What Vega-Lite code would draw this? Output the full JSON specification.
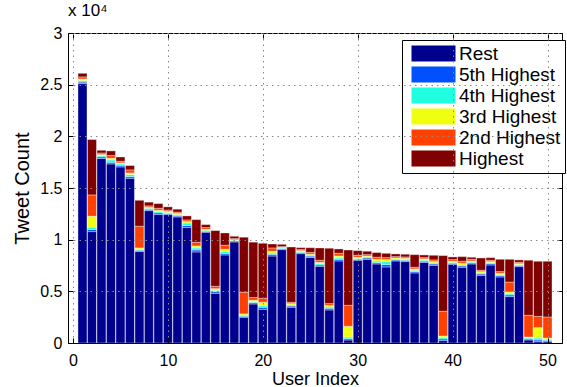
{
  "$schema": "https://vega.github.io/schema/vega-lite/v6.json",
  "width": 494,
  "height": 310,
  "autosize": {"type": "none"},
  "padding": {"left": 68, "top": 33, "right": 5, "bottom": 44},
  "background": "white",
  "config": {"view": {"stroke": "black", "strokeWidth": 1}, "font": "Liberation Sans"},
  "title": {"text": "x 10⁴", "anchor": "start", "frame": "group", "offset": 5, "fontSize": 17, "fontWeight": "normal", "font": "Liberation Sans", "color": "black"},
  "datasets": {
    "segs": [
      {"Segment": "Rest", "rank": 0},
      {"Segment": "5th Highest", "rank": 1},
      {"Segment": "4th Highest", "rank": 2},
      {"Segment": "3rd Highest", "rank": 3},
      {"Segment": "2nd Highest", "rank": 4},
      {"Segment": "Highest", "rank": 5}
    ],
    "users": [
      {"user": 1, "Rest": 25100, "5th Highest": 150, "4th Highest": 150, "3rd Highest": 150, "2nd Highest": 200, "Highest": 350},
      {"user": 2, "Rest": 10780, "5th Highest": 200, "4th Highest": 220, "3rd Highest": 1070, "2nd Highest": 2060, "Highest": 5360},
      {"user": 3, "Rest": 17850, "5th Highest": 160, "4th Highest": 130, "3rd Highest": 100, "2nd Highest": 150, "Highest": 260},
      {"user": 4, "Rest": 17330, "5th Highest": 160, "4th Highest": 230, "3rd Highest": 160, "2nd Highest": 260, "Highest": 450},
      {"user": 5, "Rest": 17040, "5th Highest": 160, "4th Highest": 130, "3rd Highest": 100, "2nd Highest": 160, "Highest": 410},
      {"user": 6, "Rest": 15940, "5th Highest": 160, "4th Highest": 200, "3rd Highest": 160, "2nd Highest": 290, "Highest": 420},
      {"user": 7, "Rest": 8850, "5th Highest": 120, "4th Highest": 100, "3rd Highest": 130, "2nd Highest": 2100, "Highest": 2510},
      {"user": 8, "Rest": 12810, "5th Highest": 130, "4th Highest": 100, "3rd Highest": 100, "2nd Highest": 130, "Highest": 360},
      {"user": 9, "Rest": 12430, "5th Highest": 160, "4th Highest": 130, "3rd Highest": 130, "2nd Highest": 190, "Highest": 450},
      {"user": 10, "Rest": 12430, "5th Highest": 100, "4th Highest": 100, "3rd Highest": 100, "2nd Highest": 130, "Highest": 320},
      {"user": 11, "Rest": 12200, "5th Highest": 100, "4th Highest": 130, "3rd Highest": 100, "2nd Highest": 130, "Highest": 290},
      {"user": 12, "Rest": 11170, "5th Highest": 190, "4th Highest": 260, "3rd Highest": 130, "2nd Highest": 160, "Highest": 390},
      {"user": 13, "Rest": 8810, "5th Highest": 190, "4th Highest": 200, "3rd Highest": 190, "2nd Highest": 360, "Highest": 2190},
      {"user": 14, "Rest": 10720, "5th Highest": 90, "4th Highest": 100, "3rd Highest": 90, "2nd Highest": 170, "Highest": 290},
      {"user": 15, "Rest": 4810, "5th Highest": 160, "4th Highest": 130, "3rd Highest": 160, "2nd Highest": 230, "Highest": 5390},
      {"user": 16, "Rest": 8520, "5th Highest": 160, "4th Highest": 170, "3rd Highest": 220, "2nd Highest": 390, "Highest": 1190},
      {"user": 17, "Rest": 9780, "5th Highest": 100, "4th Highest": 60, "3rd Highest": 60, "2nd Highest": 100, "Highest": 230},
      {"user": 18, "Rest": 2490, "5th Highest": 100, "4th Highest": 100, "3rd Highest": 130, "2nd Highest": 2100, "Highest": 5320},
      {"user": 19, "Rest": 3780, "5th Highest": 130, "4th Highest": 100, "3rd Highest": 130, "2nd Highest": 260, "Highest": 5360},
      {"user": 20, "Rest": 3260, "5th Highest": 200, "4th Highest": 160, "3rd Highest": 320, "2nd Highest": 390, "Highest": 5320},
      {"user": 21, "Rest": 8420, "5th Highest": 160, "4th Highest": 130, "3rd Highest": 170, "2nd Highest": 320, "Highest": 380},
      {"user": 22, "Rest": 9040, "5th Highest": 90, "4th Highest": 70, "3rd Highest": 60, "2nd Highest": 70, "Highest": 220},
      {"user": 23, "Rest": 3460, "5th Highest": 120, "4th Highest": 100, "3rd Highest": 130, "2nd Highest": 130, "Highest": 5350},
      {"user": 24, "Rest": 8650, "5th Highest": 100, "4th Highest": 100, "3rd Highest": 90, "2nd Highest": 100, "Highest": 190},
      {"user": 25, "Rest": 8280, "5th Highest": 130, "4th Highest": 100, "3rd Highest": 90, "2nd Highest": 170, "Highest": 450},
      {"user": 26, "Rest": 7420, "5th Highest": 130, "4th Highest": 130, "3rd Highest": 130, "2nd Highest": 200, "Highest": 1190},
      {"user": 27, "Rest": 3200, "5th Highest": 160, "4th Highest": 130, "3rd Highest": 130, "2nd Highest": 190, "Highest": 5360},
      {"user": 28, "Rest": 7940, "5th Highest": 160, "4th Highest": 130, "3rd Highest": 190, "2nd Highest": 260, "Highest": 420},
      {"user": 29, "Rest": 290, "5th Highest": 130, "4th Highest": 160, "3rd Highest": 1040, "2nd Highest": 2030, "Highest": 5350},
      {"user": 30, "Rest": 8010, "5th Highest": 90, "4th Highest": 100, "3rd Highest": 100, "2nd Highest": 190, "Highest": 450},
      {"user": 31, "Rest": 8100, "5th Highest": 130, "4th Highest": 100, "3rd Highest": 90, "2nd Highest": 130, "Highest": 330},
      {"user": 32, "Rest": 7650, "5th Highest": 130, "4th Highest": 160, "3rd Highest": 160, "2nd Highest": 200, "Highest": 450},
      {"user": 33, "Rest": 7360, "5th Highest": 230, "4th Highest": 290, "3rd Highest": 190, "2nd Highest": 190, "Highest": 420},
      {"user": 34, "Rest": 7940, "5th Highest": 100, "4th Highest": 90, "3rd Highest": 100, "2nd Highest": 130, "Highest": 260},
      {"user": 35, "Rest": 7880, "5th Highest": 120, "4th Highest": 100, "3rd Highest": 100, "2nd Highest": 130, "Highest": 260},
      {"user": 36, "Rest": 6780, "5th Highest": 130, "4th Highest": 130, "3rd Highest": 130, "2nd Highest": 160, "Highest": 1220},
      {"user": 37, "Rest": 7800, "5th Highest": 120, "4th Highest": 100, "3rd Highest": 120, "2nd Highest": 120, "Highest": 260},
      {"user": 38, "Rest": 7520, "5th Highest": 130, "4th Highest": 100, "3rd Highest": 130, "2nd Highest": 160, "Highest": 450},
      {"user": 39, "Rest": 230, "5th Highest": 160, "4th Highest": 160, "3rd Highest": 130, "2nd Highest": 2390, "Highest": 5390},
      {"user": 40, "Rest": 7620, "5th Highest": 100, "4th Highest": 90, "3rd Highest": 100, "2nd Highest": 160, "Highest": 260},
      {"user": 41, "Rest": 7330, "5th Highest": 130, "4th Highest": 90, "3rd Highest": 170, "2nd Highest": 190, "Highest": 450},
      {"user": 42, "Rest": 7650, "5th Highest": 100, "4th Highest": 90, "3rd Highest": 100, "2nd Highest": 160, "Highest": 200},
      {"user": 43, "Rest": 6550, "5th Highest": 130, "4th Highest": 100, "3rd Highest": 130, "2nd Highest": 130, "Highest": 1190},
      {"user": 44, "Rest": 7550, "5th Highest": 130, "4th Highest": 100, "3rd Highest": 100, "2nd Highest": 130, "Highest": 250},
      {"user": 45, "Rest": 6390, "5th Highest": 130, "4th Highest": 100, "3rd Highest": 130, "2nd Highest": 160, "Highest": 1190},
      {"user": 46, "Rest": 4490, "5th Highest": 160, "4th Highest": 130, "3rd Highest": 160, "2nd Highest": 960, "Highest": 2200},
      {"user": 47, "Rest": 7390, "5th Highest": 100, "4th Highest": 100, "3rd Highest": 90, "2nd Highest": 130, "Highest": 230},
      {"user": 48, "Rest": 290, "5th Highest": 100, "4th Highest": 90, "3rd Highest": 100, "2nd Highest": 2100, "Highest": 5330},
      {"user": 49, "Rest": 160, "5th Highest": 130, "4th Highest": 190, "3rd Highest": 1010, "2nd Highest": 1090, "Highest": 5330},
      {"user": 50, "Rest": 160, "5th Highest": 100, "4th Highest": 100, "3rd Highest": 120, "2nd Highest": 2040, "Highest": 5390}
    ]
  },
  "data": {"name": "users"},
  "transform": [
    {"fold": ["Rest", "5th Highest", "4th Highest", "3rd Highest", "2nd Highest", "Highest"], "as": ["Segment", "Count"]},
    {"lookup": "Segment", "from": {"data": {"name": "segs"}, "key": "Segment", "fields": ["rank"]}}
  ],
  "layer": [
    {
      "mark": {"type": "bar", "size": 9, "stroke": "white", "strokeWidth": 0.6, "strokeOpacity": 0.6},
      "encoding": {
        "x": {"field": "user", "type": "quantitative", "scale": {"domain": [0, 51], "nice": false, "zero": false},
          "axis": {"orient": "bottom", "values": [0, 10, 20, 30, 40, 50], "title": "User Index", "titleFontSize": 18, "titleFontWeight": "normal", "titleColor": "black", "titleFont": "Liberation Sans", "titlePadding": 2,
            "labelFontSize": 16, "labelColor": "black", "labelFont": "Liberation Sans", "labelFlush": false, "labelPadding": 14, "tickSize": -5, "tickColor": "black", "domainColor": "black",
            "grid": true, "gridDash": [1.5, 4], "gridColor": "#888888", "gridWidth": 1, "zindex": 1}},
        "y": {"field": "Count", "type": "quantitative", "stack": "zero", "scale": {"domain": [0, 30000], "nice": false},
          "axis": {"orient": "left", "values": [0, 5000, 10000, 15000, 20000, 25000, 30000], "labelExpr": "datum.value / 10000 + ''", "title": "Tweet Count", "titleFontSize": 20, "titleFontWeight": "normal", "titleColor": "black", "titleFont": "Liberation Sans", "titlePadding": 7,
            "labelFontSize": 16, "labelColor": "black", "labelFont": "Liberation Sans", "labelFlush": false, "labelPadding": 11, "tickSize": -5, "tickColor": "black", "domainColor": "black",
            "grid": true, "gridDash": [1.5, 4], "gridColor": "#888888", "gridWidth": 1, "zindex": 1}},
        "order": {"field": "rank", "type": "quantitative"},
        "color": {"field": "Segment", "type": "nominal",
          "scale": {"domain": ["Rest", "5th Highest", "4th Highest", "3rd Highest", "2nd Highest", "Highest"], "range": ["#00008F", "#0050FF", "#20FFDF", "#EFFF10", "#FF4000", "#800000"]},
          "legend": {"title": null, "orient": "none", "legendX": 334, "legendY": 7, "symbolType": "M-2.75,-1L2.75,-1L2.75,1L-2.75,1Z", "symbolSize": 256, "symbolStrokeWidth": 0, "symbolOpacity": 1,
            "labelFontSize": 19, "labelFont": "Liberation Sans", "labelColor": "black", "labelLimit": 300, "fillColor": "white", "strokeColor": "black", "padding": 4, "rowPadding": 1, "symbolOffset": 18, "labelOffset": 16}}
      }
    },
    {
      "mark": {"type": "bar", "size": 9, "opacity": 0},
      "encoding": {
        "x": {"field": "user", "type": "quantitative", "scale": {"domain": [0, 51], "nice": false, "zero": false},
          "axis": {"orient": "top", "values": [0, 10, 20, 30, 40, 50], "labels": false, "title": null, "tickSize": -5, "tickColor": "black", "domain": false, "grid": false}},
        "y": {"field": "Count", "type": "quantitative", "stack": "zero", "scale": {"domain": [0, 30000], "nice": false},
          "axis": {"orient": "right", "values": [0, 5000, 10000, 15000, 20000, 25000, 30000], "labels": false, "title": null, "tickSize": -5, "tickColor": "black", "domain": false, "grid": false}},
        "order": {"field": "rank", "type": "quantitative"}
      }
    }
  ],
  "resolve": {"axis": {"x": "independent", "y": "independent"}}
}
